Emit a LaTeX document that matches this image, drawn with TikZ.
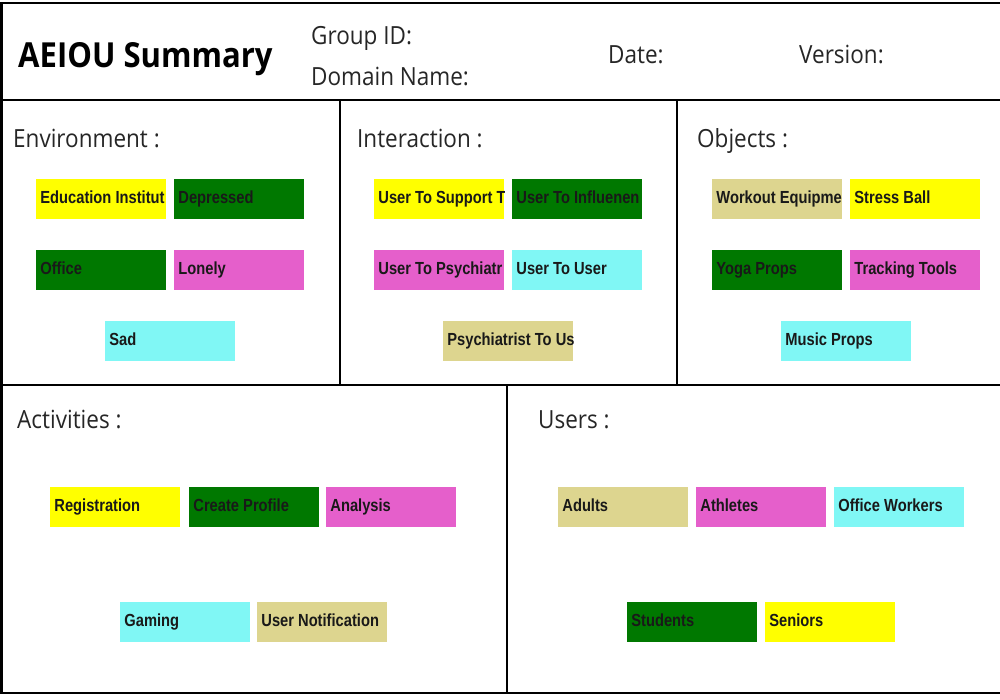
\documentclass[tikz,border=0pt]{standalone}
\usepackage{fontspec}
\setmainfont{Open Sans}
\newfontfamily\hdfont[FakeStretch=0.9]{Open Sans}
\newfontfamily\notefont[FakeStretch=0.84]{Liberation Sans}
\definecolor{nyellow}{RGB}{255,255,0}
\definecolor{ngreen}{RGB}{0,120,0}
\definecolor{npink}{RGB}{229,95,203}
\definecolor{ncyan}{RGB}{128,247,245}
\definecolor{ntan}{RGB}{221,213,143}
\tikzset{
  frame/.style={line width=2.5pt, draw=black},
  note/.style={minimum width=130pt, minimum height=40pt, inner sep=0pt, draw=none, anchor=north west},
  notetext/.style={anchor=base west, inner sep=0pt, minimum width=0pt, minimum height=0pt, fill=none, text=black!90, font=\notefont\bfseries\fontsize{17.5}{17.5}\selectfont},
  title/.style={anchor=base west, inner sep=0pt, font=\hdfont\bfseries\fontsize{34.5}{34.5}\selectfont},
  label/.style={anchor=base west, inner sep=0pt, text=black!85, font=\hdfont\fontsize{25}{25}\selectfont},
}
\newcommand\stickynote[5]{%
  \node[note, fill=#4, path picture={\node[notetext] at ([xshift=4pt,yshift=-4.5pt]path picture bounding box.west) {#5};}] (#1) at (#2,#3) {};}
\begin{document}
\begin{tikzpicture}[x=1pt,y=-1pt]
\useasboundingbox (0,0) rectangle (1000,700);
% frame
\draw[frame] (0,3) -- (1000,3);
\draw[frame] (1.5,3) -- (1.5,693);
\draw[frame] (0,693) -- (1000,693);
\draw[frame] (0,100) -- (1000,100);
\draw[frame] (340,100) -- (340,385);
\draw[frame] (677,100) -- (677,385);
\draw[frame] (0,385) -- (1000,385);
\draw[frame] (507,385) -- (507,693);
% header
\node[title] (ttl) at (18,68) {AEIOU Summary};
\node[label] (gid) at (311,45) {Group ID:};
\node[label] (dom) at (311,86) {Domain Name:};
\node[label] (dat) at (608,64) {Date:};
\node[label] (ver) at (799,64) {Version:};
% section titles
\node[label] (henv) at (13,148) {Environment :};
\node[label] (hint) at (357,148) {Interaction :};
\node[label] (hobj) at (697,148) {Objects :};
\node[label] (hact) at (17,428) {Activities :};
\node[label] (husr) at (538,428) {Users :};
% Environment
\stickynote{edu}{36}{179}{nyellow}{Education Institut}
\stickynote{dep}{174}{179}{ngreen}{Depressed}
\stickynote{off}{36}{250}{ngreen}{Office}
\stickynote{lon}{174}{250}{npink}{Lonely}
\stickynote{sad}{105}{321}{ncyan}{Sad}
% Interaction
\stickynote{sup}{374}{179}{nyellow}{User To Support T}
\stickynote{inf}{512}{179}{ngreen}{User To Influenen}
\stickynote{psy}{374}{250}{npink}{User To Psychiatr}
\stickynote{utu}{512}{250}{ncyan}{User To User}
\stickynote{ptu}{443}{321}{ntan}{Psychiatrist To Us}
% Objects
\stickynote{wrk}{712}{179}{ntan}{Workout Equipme}
\stickynote{stb}{850}{179}{nyellow}{Stress Ball}
\stickynote{yog}{712}{250}{ngreen}{Yoga Props}
\stickynote{trk}{850}{250}{npink}{Tracking Tools}
\stickynote{mus}{781}{321}{ncyan}{Music Props}
% Activities
\stickynote{reg}{50}{487}{nyellow}{Registration}
\stickynote{cpr}{189}{487}{ngreen}{Create Profile}
\stickynote{ana}{326}{487}{npink}{Analysis}
\stickynote{gam}{120}{602}{ncyan}{Gaming}
\stickynote{unt}{257}{602}{ntan}{User Notification}
% Users
\stickynote{adu}{558}{487}{ntan}{Adults}
\stickynote{ath}{696}{487}{npink}{Athletes}
\stickynote{ofw}{834}{487}{ncyan}{Office Workers}
\stickynote{stu}{627}{602}{ngreen}{Students}
\stickynote{sen}{765}{602}{nyellow}{Seniors}
\end{tikzpicture}
\end{document}
